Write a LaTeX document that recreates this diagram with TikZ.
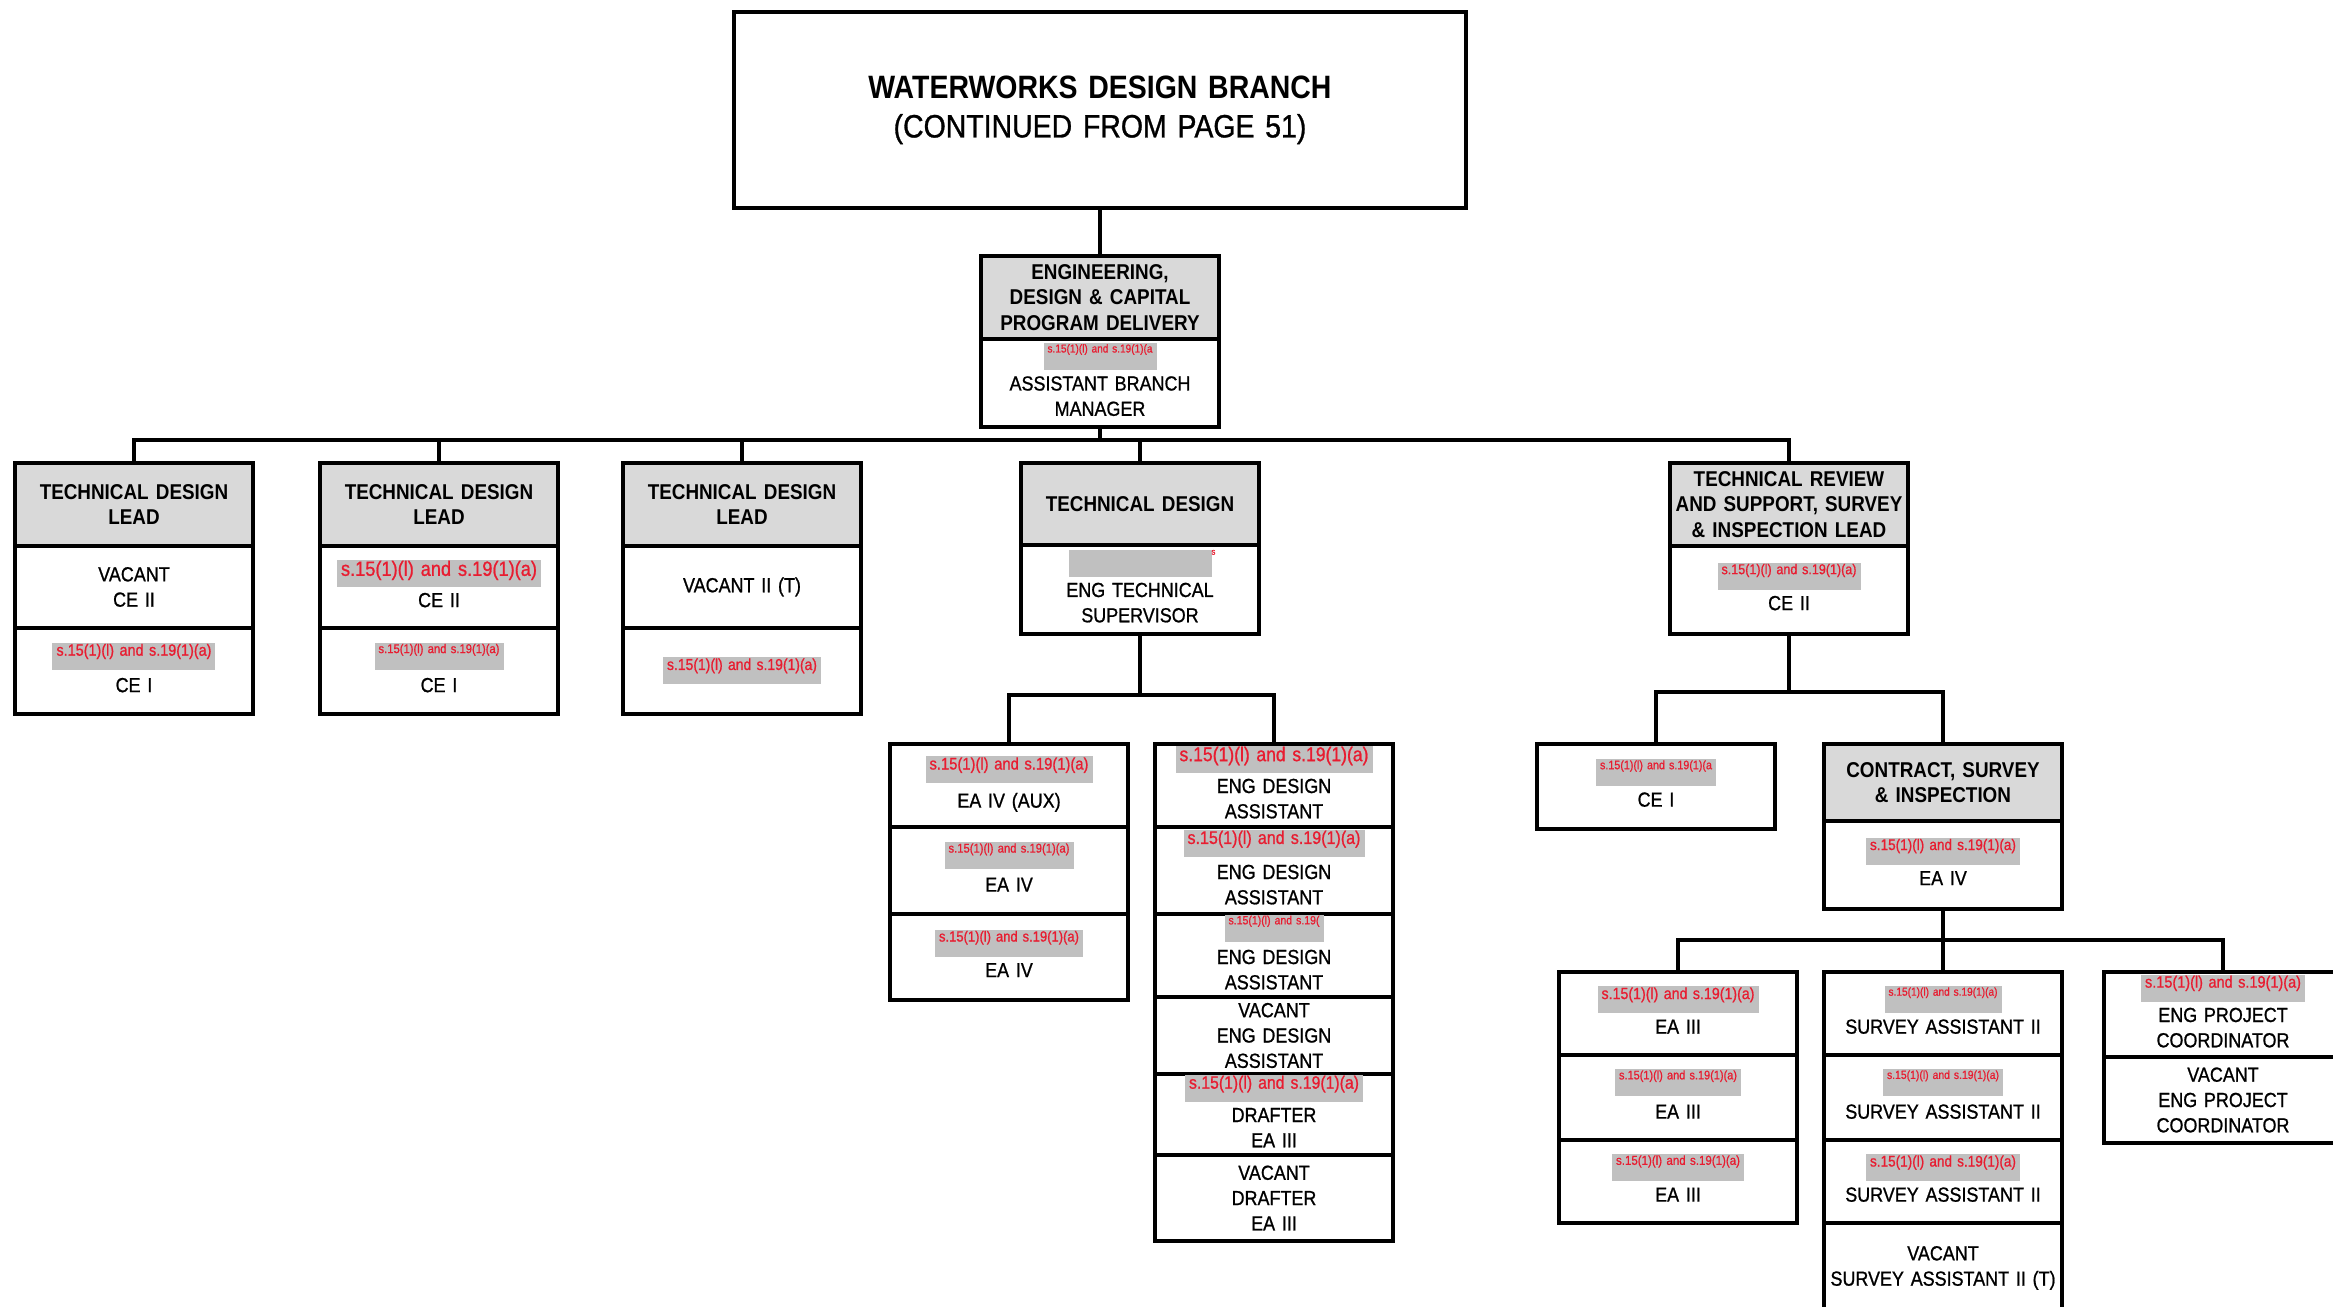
\documentclass[tikz,border=0pt]{standalone}
\usepackage{fontspec}
\setmainfont{Liberation Sans}[FakeStretch=0.88, UprightFeatures={FakeBold=0.9}]
\usepackage{graphicx}
\usepackage{xcolor}
\usepackage{tikz}
\usetikzlibrary{positioning}
\definecolor{headgray}{RGB}{217,217,217}
\definecolor{bargray}{RGB}{192,192,192}
\definecolor{redtxt}{RGB}{232,28,48}
\tikzstyle{bodycell} = [rectangle, draw=black, line width=1.1pt, minimum width=23.8mm, text width=22.6mm, inner sep=0pt, outer sep=0pt, align=center, font=\fontsize{5.8}{7.2}\selectfont]
\tikzstyle{barcell} = [bodycell, execute at end node={\rule[-0.7mm]{0pt}{0pt}}]
\tikzstyle{headcell} = [bodycell, fill=headgray, text width=23.4mm, font=\fontsize{6.1}{7.2}\selectfont\bfseries]
\tikzstyle{link} = [line width=1.1pt]
\newcommand{\redbar}[2]{{\setlength{\fboxsep}{0pt}\colorbox{bargray}{\rule[-1.1mm]{0pt}{2.7mm}\hspace{0.4mm}\raisebox{\dimexpr1.5mm-\height\relax}{\resizebox{#1}{!}{\textcolor{redtxt}{#2}}}\hspace{0.4mm}}}}
\newcommand{\blankbar}[1]{{\setlength{\fboxsep}{0pt}\colorbox{bargray}{\rule[-1.1mm]{0pt}{2.7mm}\hspace{#1}}}}
\newcommand{\sref}{s.15(1)(l) and s.19(1)(a)}

\begin{document}
\begin{tikzpicture}[x=0.1mm, y=-0.1mm]
\useasboundingbox (0,0) rectangle (2333,1307);
\fill [white] (0,0) rectangle (2333,1307);
\clip (0,0) rectangle (2333,1307);

\node (title) [bodycell, minimum width=73.2mm, minimum height=19.6mm, text width=70mm, font=\fontsize{9.2}{11.1}\selectfont] at (1100,110) {\textbf{WATERWORKS DESIGN BRANCH}\\(CONTINUED FROM PAGE 51)};

\node (edcpd) [headcell, minimum height=8.3mm, anchor=north] at (1100,256) {ENGINEERING,\\DESIGN \& CAPITAL\\PROGRAM DELIVERY};
\node (abm) [barcell, minimum height=8.8mm, below=0pt of edcpd] {\redbar{10.5mm}{s.15(1)(l) and s.19(1)(a}\\[0.6mm]ASSISTANT BRANCH\\MANAGER};

% leads
\node (lead1) [headcell, minimum height=8.3mm, anchor=north] at (134,463) {TECHNICAL DESIGN\\LEAD};
\node (lead1b) [bodycell, minimum height=8.2mm, below=0pt of lead1] {VACANT\\CE II};
\node (lead1c) [barcell, minimum height=8.6mm, below=0pt of lead1b] {\redbar{15.5mm}{\sref}\\[0.8mm]CE I};

\node (lead2) [headcell, minimum height=8.3mm, anchor=north] at (439,463) {TECHNICAL DESIGN\\LEAD};
\node (lead2b) [barcell, minimum height=8.2mm, below=0pt of lead2] {\redbar{19.6mm}{\sref}\\[0.6mm]CE II};
\node (lead2c) [barcell, minimum height=8.6mm, below=0pt of lead2b] {\redbar{12.1mm}{\sref}\\[0.8mm]CE I};

\node (lead3) [headcell, minimum height=8.3mm, anchor=north] at (742,463) {TECHNICAL DESIGN\\LEAD};
\node (lead3b) [bodycell, minimum height=8.2mm, below=0pt of lead3] {VACANT II (T)};
\node (lead3c) [bodycell, minimum height=8.6mm, below=0pt of lead3b] {\redbar{15mm}{\sref}};

\node (td) [headcell, minimum height=8.2mm, anchor=north] at (1140,463) {TECHNICAL DESIGN};
\node (tdsup) [barcell, minimum height=8.9mm, below=0pt of td] {\blankbar{14.3mm}\rlap{\raisebox{1.1mm}{\textcolor{redtxt}{\fontsize{2.5}{3}\selectfont s}}}\\[0.6mm]ENG TECHNICAL\\SUPERVISOR};

\node (trs) [headcell, minimum height=8.3mm, anchor=north] at (1789,463) {TECHNICAL REVIEW\\AND SUPPORT, SURVEY\\\& INSPECTION LEAD};
\node (trsb) [barcell, minimum height=8.8mm, below=0pt of trs] {\redbar{13.5mm}{\sref}\\[0.6mm]CE II};

% technical design staff
\node (eaaux) [barcell, minimum height=8.3mm, anchor=north] at (1009,744) {\redbar{15.9mm}{\sref}\\[0.6mm]EA IV (AUX)};
\node (ea4a) [barcell, minimum height=8.7mm, below=0pt of eaaux] {\redbar{12.1mm}{\sref}\\[0.8mm]EA IV};
\node (ea4b) [barcell, minimum height=8.6mm, below=0pt of ea4a] {\redbar{14mm}{\sref}\\[0.6mm]EA IV};

\node (eda) [barcell, minimum height=8.3mm, anchor=north] at (1274,744) {\redbar{18.9mm}{\sref}\\[0.6mm]ENG DESIGN\\ASSISTANT};
\node (edb) [barcell, minimum height=8.7mm, below=0pt of eda] {\redbar{17.3mm}{\sref}\\[0.8mm]ENG DESIGN\\ASSISTANT};
\node (edc) [barcell, minimum height=8.3mm, below=0pt of edb] {\redbar{9.1mm}{s.15(1)(l) and s.19(}\\[0.8mm]ENG DESIGN\\ASSISTANT};
\node (edv) [bodycell, minimum height=7.7mm, below=0pt of edc] {VACANT\\ENG DESIGN\\ASSISTANT};
\node (drf) [barcell, minimum height=8.1mm, below=0pt of edv] {\redbar{17mm}{\sref}\\[0.6mm]DRAFTER\\EA III};
\node (drv) [bodycell, minimum height=8.6mm, below=0pt of drf] {VACANT\\DRAFTER\\EA III};

% review, survey and inspection
\node (ce1) [barcell, minimum height=8.5mm, anchor=north] at (1656,744) {\redbar{11.2mm}{s.15(1)(l) and s.19(1)(a}\\[0.6mm]CE I};
\node (csi) [headcell, minimum height=7.7mm, anchor=north] at (1943,744) {CONTRACT, SURVEY\\\& INSPECTION};
\node (csib) [barcell, minimum height=8.8mm, below=0pt of csi] {\redbar{14.6mm}{\sref}\\[0.6mm]EA IV};

\node (e3a) [barcell, minimum height=8.3mm, anchor=north] at (1678,972) {\redbar{15.3mm}{\sref}\\[0.6mm]EA III};
\node (e3b) [barcell, minimum height=8.5mm, below=0pt of e3a] {\redbar{11.8mm}{\sref}\\[0.8mm]EA III};
\node (e3c) [barcell, minimum height=8.3mm, below=0pt of e3b] {\redbar{12.4mm}{\sref}\\[0.6mm]EA III};

\node (sa1) [barcell, minimum height=8.3mm, anchor=north] at (1943,972) {\redbar{10.9mm}{\sref}\\[0.6mm]SURVEY ASSISTANT II};
\node (sa2) [barcell, minimum height=8.5mm, below=0pt of sa1] {\redbar{11.2mm}{\sref}\\[0.8mm]SURVEY ASSISTANT II};
\node (sa3) [barcell, minimum height=8.3mm, below=0pt of sa2] {\redbar{14.6mm}{\sref}\\[0.6mm]SURVEY ASSISTANT II};
\node (sav) [bodycell, minimum height=9mm, below=0pt of sa3] {VACANT\\SURVEY ASSISTANT II (T)};

\node (ep1) [barcell, minimum height=8.5mm, anchor=north] at (2223,972) {\redbar{15.6mm}{\sref}\\[0.6mm]ENG PROJECT\\COORDINATOR};
\node (ep2) [bodycell, minimum height=8.6mm, below=0pt of ep1] {VACANT\\ENG PROJECT\\COORDINATOR};

% connectors
\coordinate (bus) at (1100,440);
\coordinate (tdbus) at (1140,695);
\coordinate (trsbus) at (1789,692);
\coordinate (csibus) at (1943,940);
\draw [link] (title) -- (edcpd);
\draw [link] (abm) -- (bus);
\foreach \n in {lead1,lead2,lead3,td,trs}
  \draw [link] (bus) -| (\n);
\draw [link] (tdsup) -- (tdbus);
\foreach \n in {eaaux,eda}
  \draw [link] (tdbus) -| (\n);
\draw [link] (trsb) -- (trsbus);
\foreach \n in {ce1,csi}
  \draw [link] (trsbus) -| (\n);
\draw [link] (csib) -- (csibus);
\foreach \n in {e3a,sa1,ep1}
  \draw [link] (csibus) -| (\n);
\end{tikzpicture}
\end{document}
